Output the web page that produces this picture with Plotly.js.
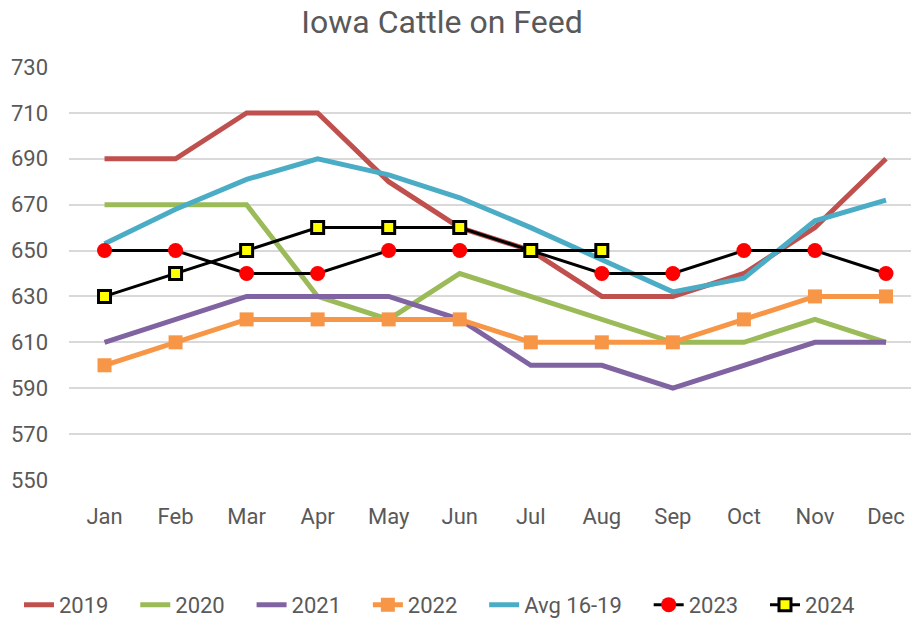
<!DOCTYPE html>
<html>
<head>
<meta charset="utf-8">
<script src="https://cdn.plot.ly/plotly-3.0.1.min.js"></script>
<style>
  html, body { margin: 0; padding: 0; background: #fff; }
  #chart { width: 911px; height: 621px; }
</style>
</head>
<body>
<div id="chart"></div>
<script>
// Iowa Cattle on Feed (1000 head)
var months = ['Jan', 'Feb', 'Mar', 'Apr', 'May', 'Jun', 'Jul', 'Aug', 'Sep', 'Oct', 'Nov', 'Dec'];

var y2019 = [690, 690, 710, 710, 680, 660, 650, 630, 630, 640, 660, 690];
var y2020 = [670, 670, 670, 630, 620, 640, 630, 620, 610, 610, 620, 610];
var y2021 = [610, 620, 630, 630, 630, 620, 600, 600, 590, 600, 610, 610];
var y2022 = [600, 610, 620, 620, 620, 620, 610, 610, 610, 620, 630, 630];
var avg1619 = [653, 668, 681, 690, 683, 673, 660, 646, 632, 638, 663, 672];
var y2023 = [650, 650, 640, 640, 650, 650, 650, 640, 640, 650, 650, 640];
var y2024 = [630, 640, 650, 660, 660, 660, 650, 650];

var yTicks = [550, 570, 590, 610, 630, 650, 670, 690, 710, 730];

var fnt = 'Roboto, Lato, sans-serif';
var grey = '#595959';
var pad = '\u00A0\u00A0\u00A0\u00A0'; // extra room between legend entries

// plain coloured lines
function plain(name, ys, color) {
  return {
    x: months, y: ys, name: name + pad, type: 'scatter', mode: 'lines',
    line: {color: color, width: 5}
  };
}

var traces = [
  plain('2019', y2019, '#C0504D'),
  plain('2020', y2020, '#9BBB59'),
  plain('2021', y2021, '#8064A2'),
  {
    x: months, y: y2022, name: '2022' + pad, type: 'scatter', mode: 'lines+markers',
    line: {color: '#F79646', width: 5},
    marker: {symbol: 'square', size: 14, color: '#F79646'}
  },
  plain('Avg 16-19', avg1619, '#4BACC6'),
  {
    x: months, y: y2023, name: '2023' + pad, type: 'scatter', mode: 'lines+markers',
    line: {color: '#000000', width: 3},
    marker: {symbol: 'circle', size: 15, color: '#FF0000', line: {width: 0}}
  },
  {
    x: months.slice(0, y2024.length), y: y2024, name: '2024', type: 'scatter', mode: 'lines+markers',
    line: {color: '#000000', width: 3},
    marker: {symbol: 'square', size: 12, color: '#FFFF00', line: {color: '#000000', width: 3}}
  }
];

var layout = {
  width: 911, height: 621,
  margin: {l: 69, r: 0, t: 67, b: 141, pad: 0},
  paper_bgcolor: '#fff',
  plot_bgcolor: '#fff',
  font: {family: fnt, color: grey, size: 22},
  title: {
    text: 'Iowa Cattle on Feed',
    font: {family: fnt, size: 32, color: grey},
    x: 0.443, xanchor: 'center', y: 0.965, yanchor: 'middle', xref: 'paper'
  },
  xaxis: {
    type: 'category',
    range: [-0.5, 11.352],
    showgrid: false, zeroline: false, showline: false,
    ticks: '', ticklabelstandoff: 21,
    tickfont: {family: fnt, size: 22, color: grey}
  },
  yaxis: {
    range: [550, 730],
    tickvals: yTicks,
    showgrid: true, gridcolor: '#D9D9D9', gridwidth: 2,
    zeroline: false, showline: false,
    ticks: '', ticklabelstandoff: 20,
    tickfont: {family: fnt, size: 22, color: grey}
  },
  showlegend: true,
  legend: {
    orientation: 'h',
    x: 0.44, xanchor: 'center',
    yref: 'container',
    y: 0.026, yanchor: 'middle',
    font: {family: fnt, size: 22, color: grey},
    itemwidth: 30,
    tracegroupgap: 0
  }
};

Plotly.newPlot('chart', traces, layout, {displayModeBar: false, responsive: false});
</script>
</body>
</html>
